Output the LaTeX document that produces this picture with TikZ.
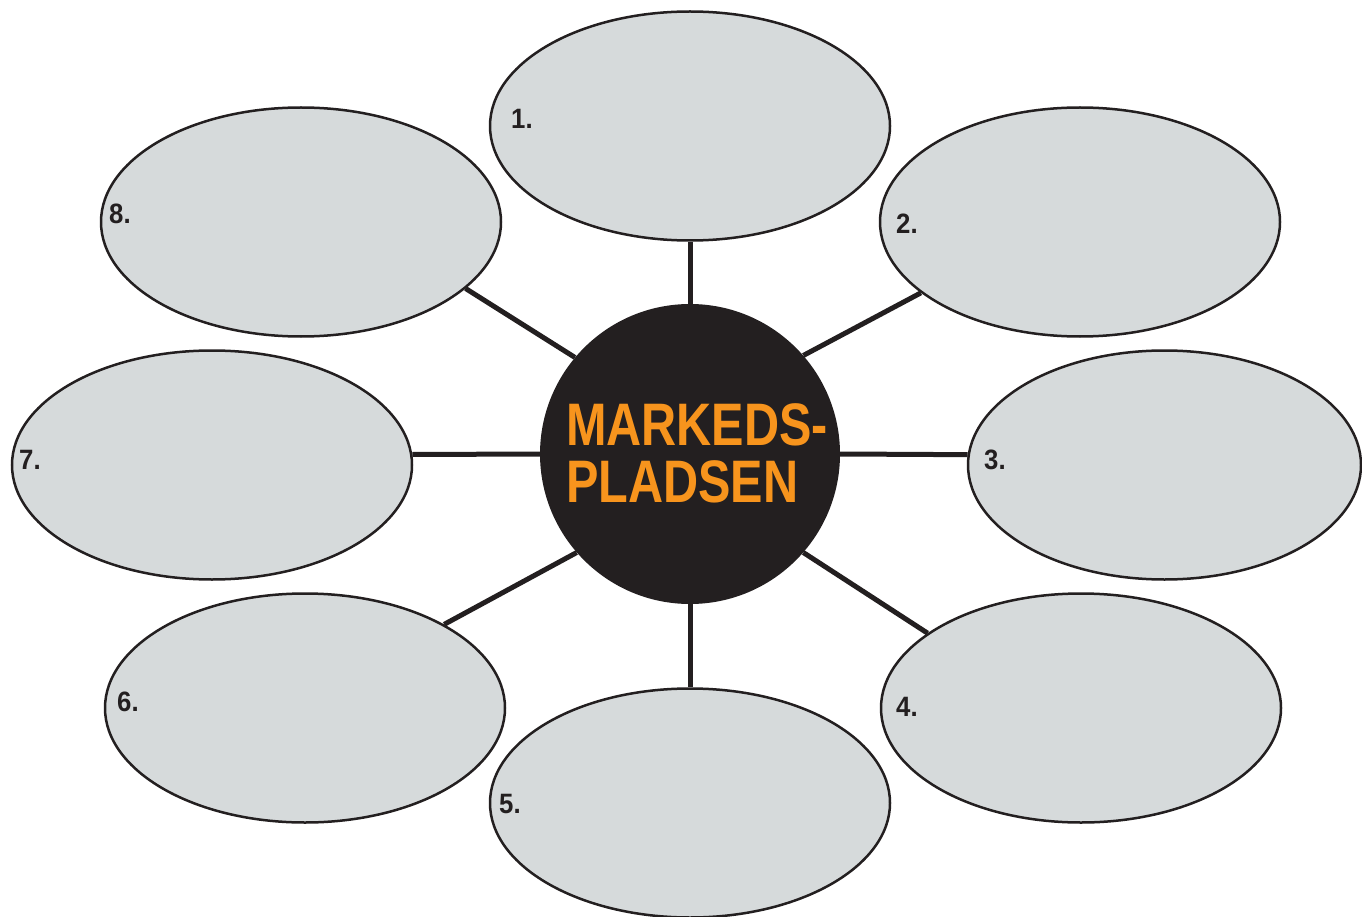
\documentclass[tikz,border=0pt]{standalone}
\usepackage{fontspec}
\setmainfont{Liberation Sans}
\newfontfamily\condfont[FakeStretch=0.81]{Liberation Sans}
\newfontfamily\labfont[FakeStretch=0.92]{Liberation Sans}
\usetikzlibrary{shapes.geometric,backgrounds}
\definecolor{bubble}{HTML}{D6DADB}
\definecolor{hub}{HTML}{231F20}
\definecolor{hubtext}{HTML}{F7941D}
\definecolor{ink}{HTML}{231F20}
\tikzset{
  bub/.style={ellipse, draw=ink, line width=2.5pt, fill=bubble, minimum width=400pt, minimum height=229pt, inner sep=0pt},
  num/.style={anchor=west, inner sep=0pt, font=\labfont\bfseries\fontsize{28}{28}\selectfont, text=ink},
  conn/.style={draw=ink, line width=5pt},
  title/.style={anchor=base west, inner sep=0pt, text height=43pt, text depth=0pt, text=hubtext, font=\condfont\bfseries\fontsize{60}{60}\selectfont}
}
\begin{document}
\begin{tikzpicture}[x=1pt,y=-1pt]
\useasboundingbox (0,0) rectangle (1362,917);
\node[bub] (e1) at (690,126) {};
\node[bub] (e2) at (1080,222) {};
\node[bub, minimum width=393pt] (e3) at (1164.5,465) {};
\node[bub] (e4) at (1081,708) {};
\node[bub] (e5) at (690,803) {};
\node[bub] (e6) at (305,708) {};
\node[bub] (e7) at (212,465) {};
\node[bub] (e8) at (301,222) {};
\node[circle, fill=hub, minimum size=300pt, inner sep=0pt] (c) at (690,454) {};
\begin{pgfonlayer}{background}
\draw[conn] (c.90) -- (e1.270);
\draw[conn] (c.41.5) -- (e2.204.5);
\draw[conn] (c.-0.8) -- (e3.177.4);
\draw[conn] (c.-41.8) -- (e4.154.3);
\draw[conn] (c.270) -- (e5.90);
\draw[conn] (c.221.5) -- (e6.31.9);
\draw[conn] (c.180.4) -- (e7.3.4);
\draw[conn] (c.140.7) -- (e8.-22.5);
\end{pgfonlayer}
\node[title] (t1) at (566,445) {MARKEDS-};
\node[title] (t2) at (566,502) {PLADSEN};
\node[num] (n1) at (511,119) {1.};
\node[num] (n2) at (896,224) {2.};
\node[num] (n3) at (984,460) {3.};
\node[num] (n4) at (896,707) {4.};
\node[num] (n5) at (499,804) {5.};
\node[num] (n6) at (117,702) {6.};
\node[num] (n7) at (19,460) {7.};
\node[num] (n8) at (109,214) {8.};
\end{tikzpicture}
\end{document}
